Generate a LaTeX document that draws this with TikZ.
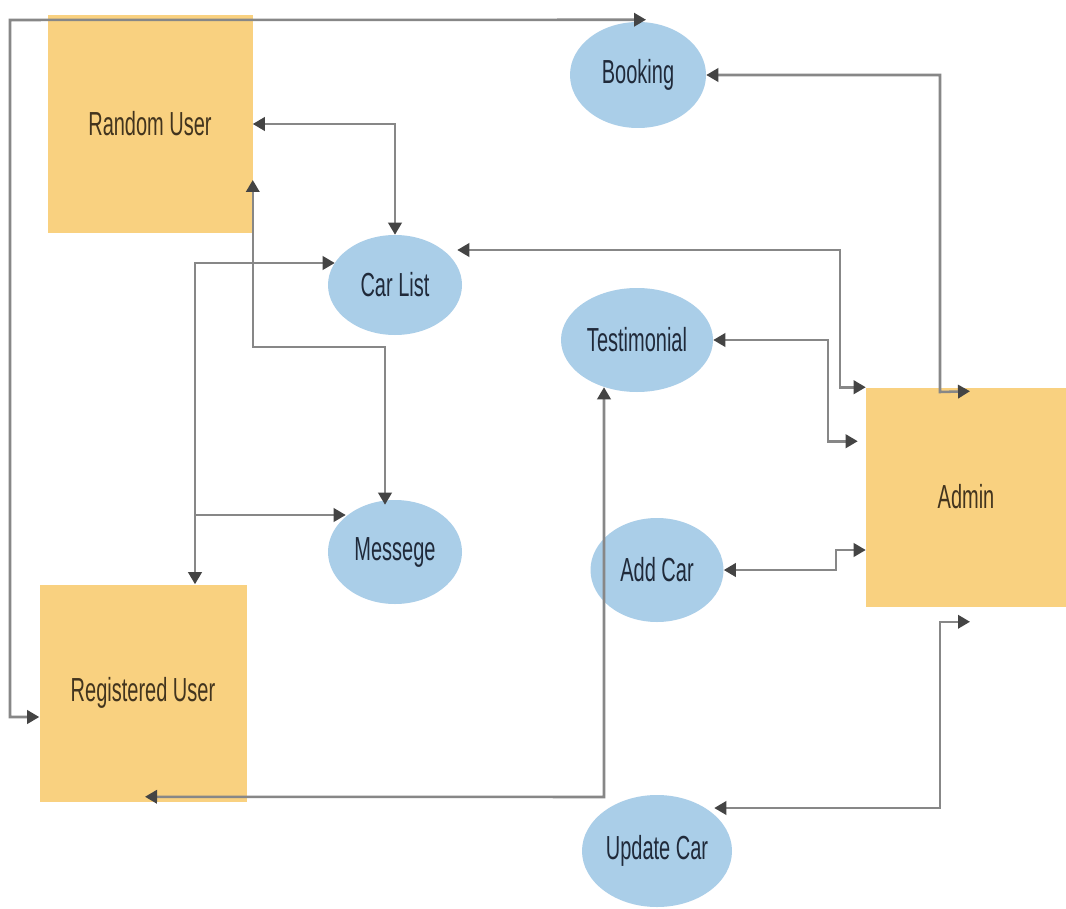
\documentclass[tikz,border=0pt]{standalone}
\usepackage{fontspec}
\setmainfont{Liberation Sans}[FakeStretch=0.6]
\usetikzlibrary{arrows.meta,shapes.geometric,calc}

\definecolor{actorfill}{RGB}{249,209,128}
\definecolor{procfill}{RGB}{170,206,232}
\definecolor{wire}{RGB}{135,135,135}
\definecolor{tipcolor}{RGB}{68,68,68}
\definecolor{actorink}{RGB}{66,52,30}
\definecolor{procink}{RGB}{32,42,58}

\begin{document}
\begin{tikzpicture}[x=0.75pt,y=-0.75pt,
  >={Triangle[length=9pt,width=10pt,color=tipcolor]},
  label text/.style={font=\fontsize{25}{30}\selectfont},
  actor/.style={rectangle, fill=actorfill, draw=none, inner sep=0pt, label text, text=actorink},
  process/.style={ellipse, fill=procfill, draw=none, inner sep=0pt, label text, text=procink},
  link/.style={draw=wire, line width=1.9pt},
]
% canvas
\fill[white] (0,0) rectangle (1066,909);
\useasboundingbox (0,0) rectangle (1066,909);

% external entities
\node[actor, minimum width=153.75pt, minimum height=163.5pt] (ru) at (150,124) {Random User};
\node[actor, minimum width=155.25pt, minimum height=162.75pt] (reg) at (143,693) {Registered User};
\node[actor, minimum width=150pt, minimum height=164.25pt] (admin) at (966,497) {Admin};

% processes
\node[process, minimum width=102pt, minimum height=79.5pt] (booking) at (638,75) {Booking};
\node[process, minimum width=100.5pt, minimum height=75pt] (carlist) at (395,285) {Car List};
\node[process, minimum width=114pt, minimum height=78pt] (testi) at (637,340) {Testimonial};
\node[process, minimum width=100.5pt, minimum height=78pt] (msg) at (395,552) {Messege};
\node[process, minimum width=99.75pt, minimum height=78pt] (addcar) at (657,570) {Add Car};
\node[process, minimum width=112.5pt, minimum height=84pt] (update) at (657,851) {Update Car};

% junction on the registered-user line
\coordinate (split) at (195,515);

% connectors
\draw[link,<->] ($(booking.north)+(8,-2)$) -- (10,20) |- (reg.west |- 0,717);
\draw[link,<->] (booking.east) -| (940,392) -- ($(admin.north)+(4,4)$);
\draw[link,<->] (ru.east) -| (carlist.north);
\draw[link,<->] ($(carlist.east)+(-5,-35)$) -- (840,250) |- (admin.north west);
\draw[link,<->] (testi.east) -- (828,340) |- ($(admin.north west)+(-8,54)$);
\draw[link,<->] (addcar.east) -- (836,570) |- (admin.west |- 0,550);
\draw[link,<->] ($(update.east)+(-18,-43)$) -- (940,808) |- ($(admin.south)+(4,15)$);
\draw[link,<->] ($(reg.south)+(2,-5)$) -- (604,797) -- ($(testi.south)+(-33,-5)$);
\draw[link,<->] ($(msg.north)+(-10,5)$) -- (385,347) -| ($(ru.east)+(0,56)$);
\draw[link,<->] ($(carlist.west)+(7,-22)$) -| (reg.north -| 195,0);
\draw[link,->] (split) -- ($(msg.west)+(18,-37)$);
\end{tikzpicture}
\end{document}
